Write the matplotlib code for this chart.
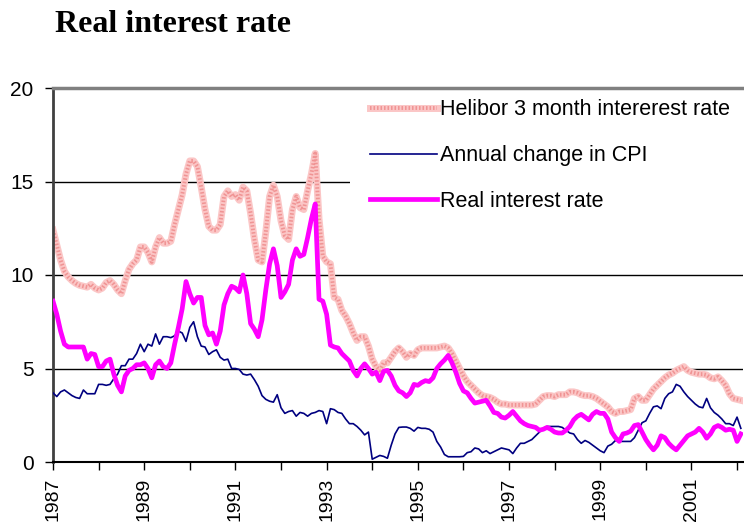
import numpy as np
import matplotlib.pyplot as plt
from matplotlib.legend_handler import HandlerTuple
from matplotlib.patches import Rectangle

plt.rcParams['font.family'] = 'Liberation Sans'

# Monthly values, Jan 1987 - Feb 2002 (one row per year)
helibor = [
    12.4, 11.6, 10.8, 10.2, 9.9, 9.7, 9.55, 9.45, 9.4, 9.35, 9.5, 9.3,
    9.2, 9.3, 9.6, 9.7, 9.5, 9.2, 9.0, 9.7, 10.3, 10.6, 10.8, 11.5,
    11.5, 11.2, 10.7, 11.5, 12.0, 11.7, 11.7, 11.8, 12.7, 13.5, 14.3, 15.4,
    16.1, 16.1, 15.8, 14.7, 13.5, 12.6, 12.4, 12.4, 12.7, 14.2, 14.5, 14.2,
    14.3, 14.0, 14.7, 14.5, 13.3, 11.9, 10.8, 10.7, 12.3, 14.2, 14.8, 14.2,
    12.9, 12.1, 11.9, 13.5, 14.2, 13.6, 13.5, 14.5, 15.4, 16.5, 13.0, 11.0,
    10.7, 10.6, 8.8, 8.7, 8.1, 7.8, 7.4, 6.9, 6.5, 6.7, 6.7, 6.2,
    5.5, 5.1, 4.9, 5.3, 5.3, 5.6, 5.9, 6.1, 5.9, 5.6, 5.8, 5.7,
    6.0, 6.1, 6.1, 6.1, 6.1, 6.1, 6.15, 6.2, 6.1, 5.8, 5.4, 5.0,
    4.6, 4.3, 4.1, 3.9, 3.7, 3.55, 3.5, 3.45, 3.35, 3.2, 3.1, 3.1,
    3.05, 3.05, 3.05, 3.05, 3.05, 3.05, 3.05, 3.1, 3.3, 3.5, 3.55, 3.55,
    3.5, 3.6, 3.6, 3.6, 3.75, 3.75, 3.7, 3.6, 3.55, 3.55, 3.5, 3.4,
    3.25, 3.1, 2.95, 2.7, 2.6, 2.7, 2.7, 2.75, 2.8, 3.4, 3.5, 3.3,
    3.3, 3.6, 3.9, 4.1, 4.3, 4.5, 4.65, 4.75, 4.9, 5.0, 5.1, 4.9,
    4.8, 4.75, 4.7, 4.7, 4.65, 4.5, 4.45, 4.55, 4.35, 4.1, 3.65, 3.4,
    3.35, 3.3,
]

cpi = [
    3.7, 3.5, 3.75, 3.85, 3.7, 3.55, 3.45, 3.4, 3.85, 3.65, 3.65, 3.65,
    4.15, 4.15, 4.1, 4.15, 4.45, 4.7, 5.15, 5.15, 5.5, 5.5, 5.8, 6.3,
    5.9, 6.3, 6.2, 6.85, 6.3, 6.7, 6.7, 6.65, 6.75, 7.0, 6.9, 6.45,
    7.2, 7.5, 6.7, 6.2, 6.15, 5.75, 5.9, 6.0, 5.6, 5.45, 5.5, 5.0,
    5.0, 4.95, 4.7, 4.65, 4.7, 4.4, 4.05, 3.55, 3.35, 3.25, 3.2, 3.6,
    2.9, 2.6, 2.7, 2.75, 2.45, 2.65, 2.6, 2.45, 2.6, 2.65, 2.75, 2.7,
    2.05, 2.85, 2.8, 2.65, 2.6, 2.3, 2.05, 2.05, 1.9, 1.7, 1.45, 1.6,
    0.15, 0.25, 0.35, 0.3, 0.2, 0.9, 1.5, 1.85, 1.87, 1.87, 1.8, 1.65,
    1.85, 1.8, 1.8, 1.75, 1.6, 1.1, 0.8, 0.4, 0.28, 0.28, 0.28, 0.28,
    0.3, 0.5, 0.55, 0.75, 0.7, 0.5, 0.6, 0.45, 0.55, 0.65, 0.75, 0.7,
    0.65, 0.45, 0.75, 1.0, 1.0, 1.1, 1.2, 1.4, 1.6, 1.8, 1.9, 1.9,
    1.9, 1.9, 1.85, 1.7, 1.55, 1.5, 1.2, 1.0, 1.15, 1.05, 0.9, 0.75,
    0.6, 0.5, 0.85, 0.95, 1.15, 1.1, 1.1, 1.1, 1.1, 1.3, 1.7, 2.1,
    2.2, 2.6, 2.95, 3.0, 2.85, 3.4, 3.65, 3.75, 4.15, 4.05, 3.75, 3.5,
    3.3, 3.1, 2.95, 2.9, 3.4, 2.9, 2.65, 2.5, 2.3, 2.05, 2.05, 1.95,
    2.4, 1.8,
]

real = [
    8.6, 7.9, 7.0, 6.3, 6.15, 6.15, 6.15, 6.15, 6.15, 5.5, 5.8, 5.75,
    5.1, 5.1, 5.4, 5.5, 4.7, 4.1, 3.75, 4.6, 4.9, 5.0, 5.2, 5.2,
    5.3, 5.0, 4.5, 5.2, 5.4, 5.1, 5.0, 5.3, 6.3, 7.2, 8.2, 9.65,
    9.0, 8.5, 8.8, 8.8, 7.3, 6.8, 6.9, 6.3, 7.0, 8.4, 9.0, 9.4,
    9.3, 9.1, 10.0, 9.0, 7.4, 7.1, 6.7, 7.6, 9.2, 10.6, 11.4, 10.5,
    8.8, 9.1, 9.5, 10.8, 11.4, 11.0, 11.1, 12.0, 13.0, 13.8, 8.7, 8.6,
    7.9, 6.25, 6.15, 6.1, 5.8, 5.6, 5.4, 4.9, 4.6, 5.0, 5.25, 5.0,
    4.7, 4.8, 4.35, 4.85, 4.9, 4.6, 4.1, 3.8, 3.7, 3.5, 3.7, 4.15,
    4.1, 4.25, 4.35, 4.3, 4.5, 5.0, 5.25, 5.45, 5.7, 5.3, 4.8, 4.2,
    3.8, 3.7, 3.4, 3.15, 3.2, 3.25, 3.3, 3.0, 2.65, 2.6, 2.4, 2.35,
    2.5, 2.7, 2.45, 2.2, 2.05, 1.95, 1.9, 1.85, 1.7, 1.75, 1.85, 1.75,
    1.6, 1.55, 1.55, 1.7, 1.9, 2.25, 2.45, 2.55, 2.4, 2.25, 2.55, 2.7,
    2.6, 2.6, 2.3, 1.6, 1.3, 1.1, 1.5, 1.55, 1.65, 1.95, 2.0, 1.6,
    1.2, 0.9, 0.65, 0.9, 1.4, 1.3, 1.0, 0.8, 0.65, 0.9, 1.15, 1.4,
    1.5, 1.6, 1.8, 1.6, 1.27, 1.5, 1.85, 1.95, 1.85, 1.7, 1.75, 1.7,
    1.1, 1.5,
]

labels = ['Helibor 3 month intererest rate', 'Annual change in CPI',
          'Real interest rate']
years = list(range(1987, 2003))

t = 1987 + np.arange(len(helibor)) / 12

fig = plt.figure(figsize=(7.44, 5.26), dpi=100)
ax = fig.add_axes([53/744, 1-462/526, 1-53/744-0.002, 374/526])

# Helibor drawn as a light pink band with a fine red stipple on top
h1, = ax.plot(t, helibor, color='#fbc6c6', lw=5, zorder=2)
h2, = ax.plot(t, helibor, color='#f09494', lw=2.8, ls=(0, (0.4, 0.5)), zorder=2)
c, = ax.plot(t, cpi, color='#000080', lw=1.2, zorder=3)
r, = ax.plot(t, real, color='#ff00ff', lw=3.4, zorder=4)

ax.set_xlim(1987, 2002.12)
ax.set_ylim(0, 20)
ax.set_yticks([0, 5, 10, 15, 20])
ax.set_yticklabels(['0', '5', '10', '15', '20'], fontsize=15)
ax.set_xticks(years)
ax.set_xticklabels([str(y) if y % 2 else '' for y in years], rotation=90, fontsize=14)
ax.tick_params(axis='x', direction='out', length=6, width=1, pad=5)
ax.tick_params(axis='y', direction='out', length=6, width=1, pad=8)
ax.yaxis.grid(True, color='black', lw=1)
ax.set_axisbelow(True)

ax.spines['right'].set_visible(False)
ax.spines['top'].set_color('#808080')
ax.spines['top'].set_linewidth(2.5)
ax.spines['left'].set_color('#404040')
ax.spines['left'].set_linewidth(2)
ax.spines['bottom'].set_linewidth(1.5)

# white legend area hides the gridline behind the legend
ax.add_patch(Rectangle((350/744, 1-220/526), 394/744, 128/526,
                       transform=fig.transFigure, facecolor='white',
                       edgecolor='none', zorder=1))

leg = ax.legend([(h1, h2), c, r], labels,
                handler_map={tuple: HandlerTuple(ndivide=1)},
                loc='upper left', bbox_to_anchor=(350/744, 1-79/526),
                bbox_transform=fig.transFigure, borderaxespad=0,
                frameon=False, fontsize=15.5,
                handlelength=3.1, handletextpad=0.15, labelspacing=1.15,
                borderpad=0.95)

fig.text(55/744, 1-32/526, 'Real interest rate', family='Liberation Serif',
         weight='bold', fontsize=23, va='baseline')

fig.savefig('out.png', dpi=100)
